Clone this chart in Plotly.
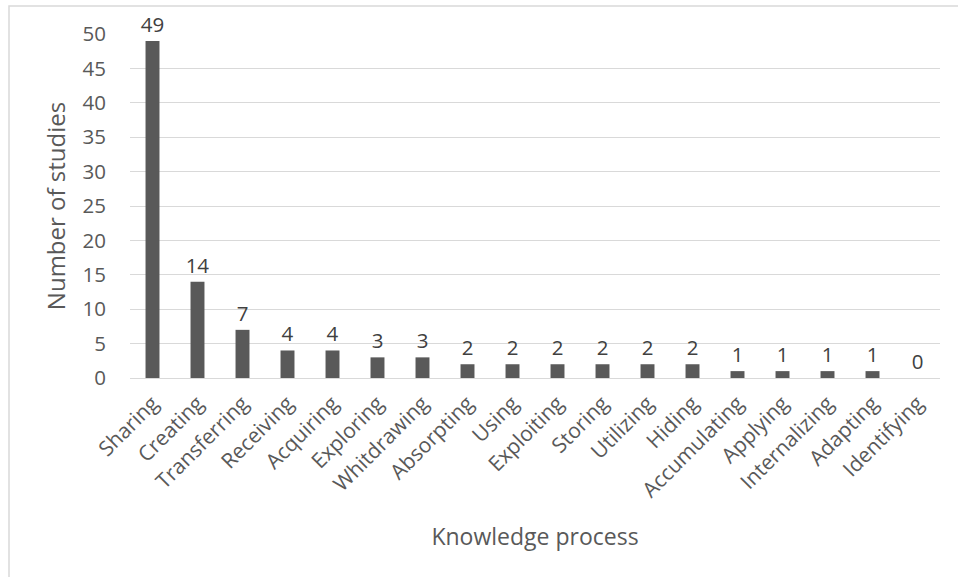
import plotly.graph_objects as go

categories = ["Sharing", "Creating", "Transferring", "Receiving", "Acquiring", "Exploring",
              "Whitdrawing", "Absorpting", "Using", "Exploiting", "Storing", "Utilizing",
              "Hiding", "Accumulating", "Applying", "Internalizing", "Adapting", "Identifying"]
values = [49, 14, 7, 4, 4, 3, 3, 2, 2, 2, 2, 2, 2, 1, 1, 1, 1, 0]
y_ticks = [0, 5, 10, 15, 20, 25, 30, 35, 40, 45, 50]

FONT = "Open Sans, Liberation Sans, sans-serif"
GRAY = "#595959"

fig = go.Figure(go.Bar(
    x=categories, y=values, width=0.31,
    marker=dict(color="#595959", line=dict(width=0)),
    text=[str(v) for v in values], textposition="outside", cliponaxis=False,
    constraintext="none",
    textfont=dict(family=FONT, size=20.5, color="#404040"),
))

L, R, T, B = 130, 18, 34, 199
W, H = 958, 577
pw, ph = W - L - R, H - T - B

fig.update_layout(
    width=W, height=H, margin=dict(l=L, r=R, t=T, b=B),
    paper_bgcolor="white", plot_bgcolor="white",
    font=dict(family=FONT, color=GRAY),
    showlegend=False, bargap=0.69,
    xaxis=dict(tickangle=-45, tickfont=dict(size=21, color=GRAY), showgrid=False,
               showline=False, zeroline=False, ticks="", ticklabelstandoff=8,
               title=dict(text="Knowledge process", font=dict(size=23, color=GRAY), standoff=26)),
    yaxis=dict(range=[0, 50], tickvals=y_ticks, tickfont=dict(size=20.5, color=GRAY),
               showgrid=True, gridcolor="#d9d9d9", gridwidth=1, zeroline=True,
               zerolinecolor="#d9d9d9", zerolinewidth=1, showline=False, ticks="",
               ticklabelstandoff=23,
               title=dict(text="Number of studies", font=dict(size=24, color=GRAY), standoff=10)),
    shapes=[dict(type="rect", xref="paper", yref="paper",
                 x0=(9 - L) / pw, x1=(965 - L) / pw,
                 y0=(H - B - 590) / ph, y1=(H - B - 6) / ph,
                 line=dict(color="#d9d9d9", width=1.5), layer="below")],
)

fig.write_html("out.html")
